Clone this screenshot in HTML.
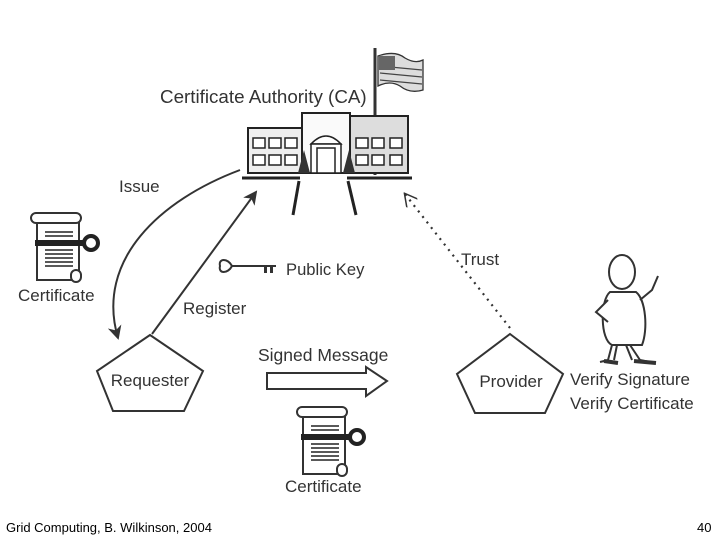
<!DOCTYPE html>
<html><head><meta charset="utf-8"><style>
html,body{margin:0;padding:0;background:#fff;}
svg{display:block;}
text{font-family:"Liberation Sans",Arial,sans-serif;fill:#333;}
</style></head><body>
<svg width="720" height="540" viewBox="0 0 720 540" xmlns="http://www.w3.org/2000/svg">
<defs>
<marker id="ah" markerWidth="14" markerHeight="14" refX="12" refY="7" orient="auto" markerUnits="userSpaceOnUse"><path d="M0,0 L14,7 L0,14 L4,7 Z" fill="#333"/></marker>
<marker id="ao" markerWidth="14" markerHeight="14" refX="12" refY="7" orient="auto" markerUnits="userSpaceOnUse"><path d="M0,0 L13,7 L0,14" fill="none" stroke="#333" stroke-width="1.5"/></marker>
<g id="cert">
<rect x="0" y="10" width="42" height="60" fill="#fff" stroke="#333" stroke-width="2"/>
<rect x="-6" y="3" width="50" height="10" rx="5" fill="#fff" stroke="#333" stroke-width="2"/>
<rect x="34" y="60" width="10" height="12" rx="5" fill="#fff" stroke="#333" stroke-width="2"/>
<g stroke="#222" stroke-width="1.6"><line x1="8" y1="22" x2="36" y2="22"/><line x1="8" y1="26" x2="36" y2="26"/><line x1="8" y1="40" x2="36" y2="40"/><line x1="8" y1="44" x2="36" y2="44"/><line x1="8" y1="48" x2="36" y2="48"/><line x1="8" y1="52" x2="36" y2="52"/><line x1="8" y1="56" x2="36" y2="56"/></g>
<rect x="-2" y="30" width="50" height="6" fill="#222"/>
<circle cx="54" cy="33" r="7" fill="#fff" stroke="#222" stroke-width="4"/>
</g>
</defs>

<text x="160" y="103" font-size="18.8">Certificate Authority (CA)</text>

<!-- flag -->
<line x1="375" y1="48" x2="375" y2="175" stroke="#333" stroke-width="3"/>
<path d="M378,56 Q395,50 405,58 Q415,64 423,60 L423,90 Q410,94 400,86 Q390,80 378,86 Z" fill="#ddd" stroke="#333" stroke-width="1.3"/>
<g stroke="#444" stroke-width="1.2"><line x1="380" y1="66" x2="422" y2="70"/><line x1="380" y1="73" x2="422" y2="77"/><line x1="380" y1="80" x2="422" y2="84"/></g>
<rect x="379" y="56" width="16" height="14" fill="#666"/>
<!-- building -->
<rect x="248" y="128" width="54" height="45" fill="#eee" stroke="#222" stroke-width="2"/>
<rect x="302" y="113" width="48" height="60" fill="#fafafa" stroke="#222" stroke-width="2"/>
<rect x="350" y="116" width="58" height="57" fill="#ddd" stroke="#222" stroke-width="2"/>
<g fill="#fff" stroke="#222" stroke-width="1.5">
<rect x="253" y="138" width="12" height="10"/><rect x="269" y="138" width="12" height="10"/><rect x="285" y="138" width="12" height="10"/>
<rect x="253" y="155" width="12" height="10"/><rect x="269" y="155" width="12" height="10"/><rect x="285" y="155" width="12" height="10"/>
<rect x="356" y="138" width="12" height="10"/><rect x="372" y="138" width="12" height="10"/><rect x="390" y="138" width="12" height="10"/>
<rect x="356" y="155" width="12" height="10"/><rect x="372" y="155" width="12" height="10"/><rect x="390" y="155" width="12" height="10"/>
<path d="M311,144 Q326,128 341,144 Z"/><rect x="311" y="144" width="30" height="29"/><rect x="317" y="148" width="18" height="25"/>
</g>
<path d="M298,173 L304,150 L310,173 Z M343,173 L349,150 L355,173 Z" fill="#333"/>
<line x1="242" y1="178" x2="300" y2="178" stroke="#222" stroke-width="3"/>
<line x1="347" y1="178" x2="412" y2="178" stroke="#222" stroke-width="3"/>
<line x1="299" y1="181" x2="293" y2="215" stroke="#222" stroke-width="3"/>
<line x1="348" y1="181" x2="356" y2="215" stroke="#222" stroke-width="3"/>

<path d="M240,170 C160,200 95,260 118,338" fill="none" stroke="#333" stroke-width="2" marker-end="url(#ah)"/>
<text x="119" y="192" font-size="17">Issue</text>
<line x1="152" y1="334" x2="256" y2="192" stroke="#333" stroke-width="2" marker-end="url(#ah)"/>
<text x="183" y="314" font-size="17">Register</text>
<line x1="510" y1="328" x2="405" y2="194" stroke="#333" stroke-width="2.2" stroke-dasharray="2,5" marker-end="url(#ao)"/>
<text x="461" y="265" font-size="17">Trust</text>

<g fill="none" stroke="#333" stroke-width="2">
<path d="M232,266 C228,258 218,258 220,266 C218,274 228,274 232,266 Z"/>
<line x1="232" y1="266" x2="276" y2="266"/>
</g>
<rect x="264" y="266" width="3" height="7" fill="#333"/><rect x="270" y="266" width="3" height="7" fill="#333"/>
<text x="286" y="275" font-size="16.6">Public Key</text>

<use href="#cert" x="37" y="210"/>
<text x="18" y="301" font-size="17">Certificate</text>
<use href="#cert" x="303" y="404"/>
<text x="285" y="492" font-size="17">Certificate</text>

<polygon points="150,335 203,371 184,411 113,411 97,371" fill="#fff" stroke="#333" stroke-width="2"/>
<text x="150" y="386" font-size="17" text-anchor="middle">Requester</text>
<polygon points="510,334 563,374 545,413 475,413 457,374" fill="#fff" stroke="#333" stroke-width="2"/>
<text x="511" y="387" font-size="17" text-anchor="middle">Provider</text>

<text x="258" y="361" font-size="17.5">Signed Message</text>
<polygon points="267,373 366,373 366,367 387,381 366,396 366,389 267,389" fill="#fff" stroke="#333" stroke-width="2"/>

<g fill="#fff" stroke="#333" stroke-width="2">
<ellipse cx="622" cy="272" rx="13" ry="17"/>
<path d="M610,292 C600,300 600,340 612,345 L642,345 C648,330 646,300 636,292 Z"/>
<path d="M608,300 L596,312 L608,322"/>
<path d="M640,300 L652,290 L658,276"/>
<path d="M612,345 L608,360 L600,362 M630,345 L640,360 L650,362"/>
<path d="M617,345 L614,360 M626,345 L632,360"/>
</g>
<path d="M604,361 L618,363 M634,361 L656,363" stroke="#333" stroke-width="4"/>
<text x="570" y="385" font-size="17">Verify Signature</text>
<text x="570" y="409" font-size="17">Verify Certificate</text>

<text x="6" y="532" font-size="13" style="fill:#000">Grid Computing, B. Wilkinson, 2004</text>
<text x="697" y="532" font-size="13" style="fill:#000">40</text>
</svg>
</body></html>
